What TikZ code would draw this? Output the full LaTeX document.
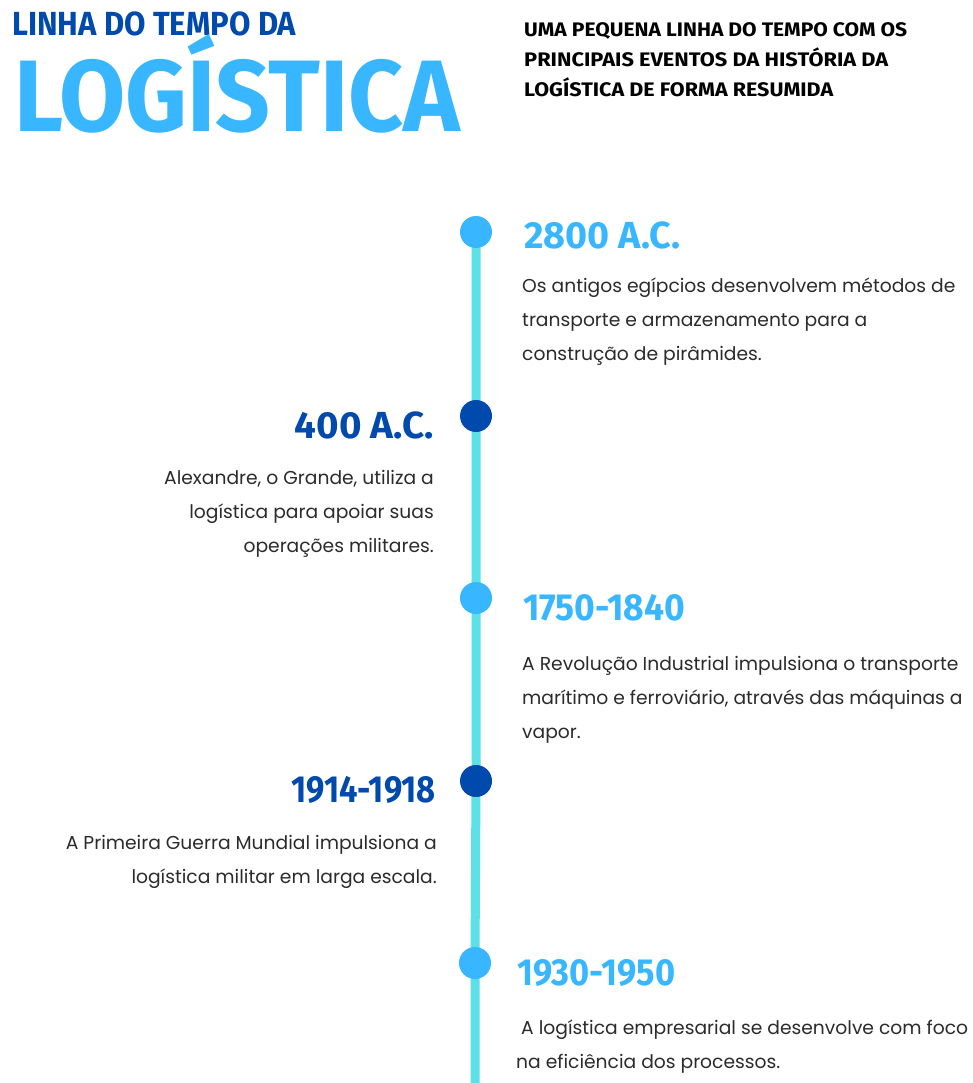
\documentclass[tikz,border=0pt]{standalone}
\usepackage{fontspec}
\usepackage{graphicx}
\usetikzlibrary{backgrounds}
\newfontfamily\headfont{Fira Sans}
\newfontfamily\bodyfont{Poppins}
\definecolor{lightblue}{HTML}{38B6FF}
\definecolor{darkblue}{HTML}{004AAD}
\definecolor{tealline}{HTML}{5CE1E6}
\definecolor{bodytext}{HTML}{2B2B2B}
\newcommand\Head[3]{\resizebox{#1}{\height}{\headfont\bfseries\fontsize{#2}{#2}\selectfont #3}}
\newcommand\Lblk[1]{\vtop{\halign{##\hfil\cr#1\crcr}}}
\newcommand\Rblk[1]{\vtop{\halign{\hfil##\cr#1\crcr}}}
\tikzset{
  lhead/.style={anchor=base west, inner sep=0pt},
  rhead/.style={anchor=base east, inner sep=0pt},
  bodyL/.style={anchor=base west, inner sep=0pt, text=bodytext, font=\bodyfont\fontsize{18.7}{34}\selectfont},
  bodyR/.style={anchor=base east, inner sep=0pt, text=bodytext, font=\bodyfont\fontsize{18.7}{34}\selectfont},
  dot/.style={circle, inner sep=0pt, minimum size=32pt},
  lightdot/.style={dot, fill=lightblue},
  darkdot/.style={dot, fill=darkblue},
  timeline/.style={draw=tealline, line width=9pt}
}
\begin{document}
\begin{tikzpicture}[x=1pt, y=-1pt]
\useasboundingbox (0,0) rectangle (973,1083);
% titles
\node[lhead, text=darkblue] (t1) at (12,36) {\Head{284pt}{33.4}{LINHA DO TEMPO DA}};
\node[lhead, text=lightblue] (t2) at (14,132) {\Head{446pt}{101.6}{LOGÍSTICA}};
\node[lhead, text=black] (s1) at (524,37) {\Head{383pt}{19.6}{UMA PEQUENA LINHA DO TEMPO COM OS}};
\node[lhead, text=black] (s2) at (524,67) {\Head{364pt}{19.6}{PRINCIPAIS EVENTOS DA HISTÓRIA DA}};
\node[lhead, text=black] (s3) at (524,97) {\Head{309pt}{19.6}{LOGÍSTICA DE FORMA RESUMIDA}};
% dots
\node[lightdot] (c1) at (476,232) {};
\node[darkdot] (c2) at (476,416) {};
\node[lightdot] (c3) at (476,598) {};
\node[darkdot] (c4) at (476,781) {};
\node[lightdot] (c5) at (475,963) {};
\coordinate (cend) at (475,1083);
\begin{pgfonlayer}{background}
\fill[white] (0,0) rectangle (973,1083);
\draw[timeline] (c1.center) -- (c2.center) -- (c3.center) -- (c4.center) -- (c5.center) -- (cend);
\end{pgfonlayer}
% years
\node[lhead, text=lightblue] (y1) at (524,248) {\Head{156pt}{37.7}{2800 A.C.}};
\node[rhead, text=darkblue] (y2) at (434,438) {\Head{139pt}{37.7}{400 A.C.}};
\node[lhead, text=lightblue] (y3) at (523,620) {\Head{162pt}{37.7}{1750-1840}};
\node[rhead, text=darkblue] (y4) at (436,802) {\Head{144pt}{37.7}{1914-1918}};
\node[lhead, text=lightblue] (y5) at (517,985) {\Head{158pt}{37.7}{1930-1950}};
% bodies
\node[bodyL] (b1) at (522,292) {\Lblk{Os antigos egípcios desenvolvem métodos de\cr transporte e armazenamento para a\cr construção de pirâmides.}};
\node[bodyR] (b2) at (434,484) {\Rblk{Alexandre, o Grande, utiliza a\cr logística para apoiar suas\cr operações militares.}};
\node[bodyL] (b3) at (522,670) {\Lblk{A Revolução Industrial impulsiona o transporte\cr marítimo e ferroviário, através das máquinas a\cr vapor.}};
\node[bodyR] (b4) at (437,849) {\Rblk{A Primeira Guerra Mundial impulsiona a\cr logística militar em larga escala.}};
\node[bodyL] (b5) at (516,1034) {\Lblk{\ A logística empresarial se desenvolve com foco\cr na eficiência dos processos.}};
\end{tikzpicture}
\end{document}
